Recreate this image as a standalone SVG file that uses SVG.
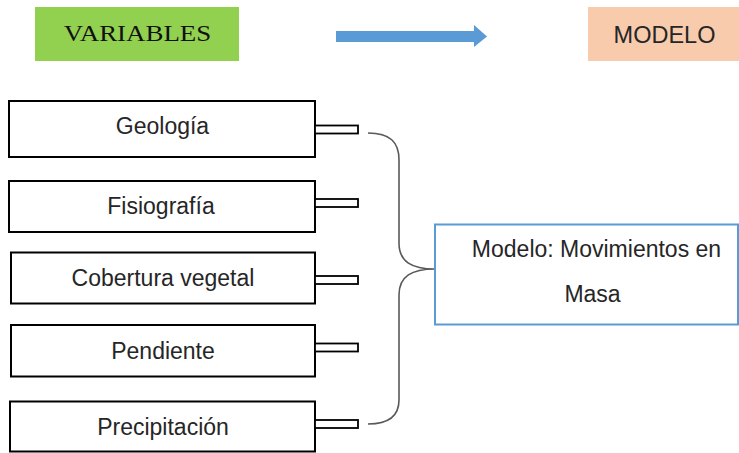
<svg xmlns="http://www.w3.org/2000/svg" width="739" height="453" viewBox="0 0 739 453">
<style>
.var rect.box{fill:#fff;stroke:#000;stroke-width:2}
.var rect.tab{fill:#fff;stroke:#000;stroke-width:1.8}
.lbl{font-family:"Liberation Sans",Arial,sans-serif;font-size:23px;fill:#262626;text-anchor:middle}
.brace{fill:none;stroke:#595959;stroke-width:1.6}
</style>
<rect width="739" height="453" fill="#fff"/>
<g id="variables-header">
<rect x="35" y="7" width="204" height="54" fill="#92d050"/>
<text transform="translate(137.5 41) scale(1.17 1)" x="0" y="0" font-family="'Liberation Serif','Times New Roman',serif" font-size="23" fill="#111" text-anchor="middle">VARIABLES</text>
</g>
<g id="header-arrow">
<polygon points="336,31 474,31 474,25 487,36.5 474,47 474,42 336,42" fill="#5b9bd5"/>
</g>
<g id="modelo-header">
<rect x="588" y="7" width="152" height="54" fill="#f8cbad"/>
<text class="lbl" x="664.5" y="43" style="font-size:23.5px">MODELO</text>
</g>
<g id="geologia" class="var">
<rect class="box" x="9" y="101" width="306" height="56"/>
<rect class="tab" x="315" y="125.5" width="43" height="8"/>
<text class="lbl" x="162.5" y="134">Geología</text>
</g>
<g id="fisiografia" class="var">
<rect class="box" x="9" y="181" width="306" height="51"/>
<rect class="tab" x="315" y="199" width="43" height="8"/>
<text class="lbl" x="161" y="214">Fisiografía</text>
</g>
<g id="cobertura" class="var">
<rect class="box" x="11" y="252.5" width="304" height="51"/>
<rect class="tab" x="315" y="276" width="43" height="8"/>
<text class="lbl" x="163" y="286">Cobertura vegetal</text>
</g>
<g id="pendiente" class="var">
<rect class="box" x="11" y="325" width="304" height="51.5"/>
<rect class="tab" x="315" y="343.5" width="43" height="8"/>
<text class="lbl" x="163" y="359">Pendiente</text>
</g>
<g id="precipitacion" class="var">
<rect class="box" x="10" y="401.5" width="305" height="50"/>
<rect class="tab" x="315" y="420" width="43" height="8"/>
<text class="lbl" x="163" y="435">Precipitación</text>
</g>
<g id="connectors">
<path class="brace" d="M368,133 C390,133 399,142 399,160 L399,243 C399,262 412,269 435,269 C412,269 399,276 399,295 L399,400 C399,416 388,424 368,424"/>
</g>
<g id="modelo-box">
<rect x="435" y="224.5" width="303" height="100" fill="#fff" stroke="#5b9bd5" stroke-width="2"/>
<text class="lbl" x="596.5" y="257">Modelo: Movimientos en</text>
<text class="lbl" x="592.5" y="302">Masa</text>
</g>
</svg>
